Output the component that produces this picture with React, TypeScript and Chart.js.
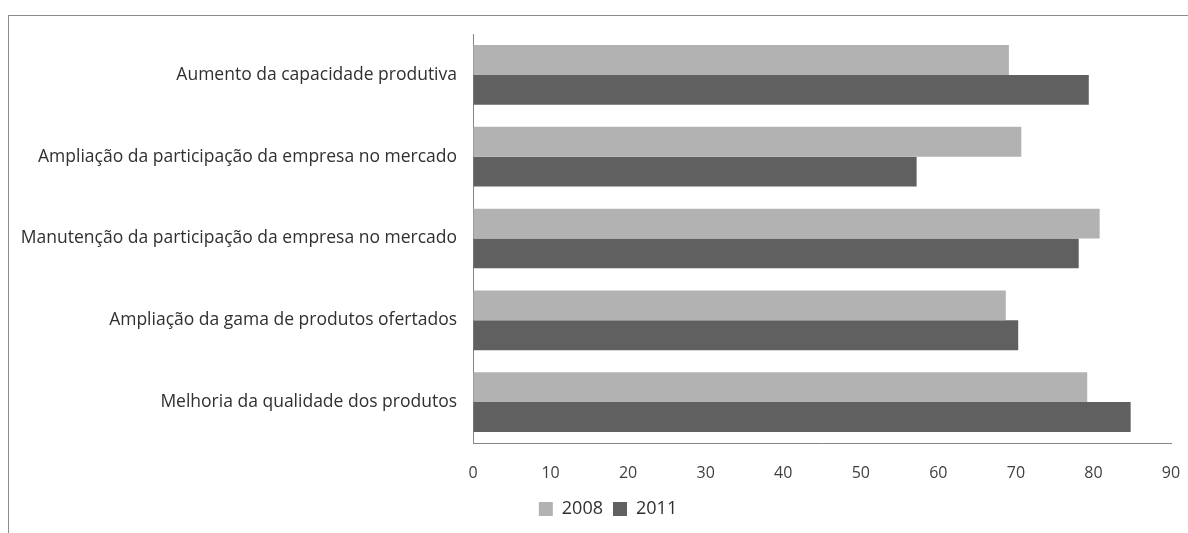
import React, { useEffect, useRef } from "react";
import { Chart, registerables } from "chart.js";

Chart.register(...registerables);

const categories = [
  "Aumento da capacidade produtiva",
  "Ampliação da participação da empresa no mercado",
  "Manutenção da participação da empresa no mercado",
  "Ampliação da gama de produtos ofertados",
  "Melhoria da qualidade dos produtos",
];
const series2008 = [69.1, 70.7, 80.8, 68.7, 79.2];
const series2011 = [79.4, 57.2, 78.1, 70.3, 84.8];
const seriesNames = ["2008", "2011"];
const xTicks = [0, 10, 20, 30, 40, 50, 60, 70, 80, 90];

const legendShift = {
  id: "legendShift",
  afterLayout(chart: any) {
    if (chart.legend) {
      chart.legend.left += 18;
      chart.legend.right += 18;
      chart.legend.top += 2;
      chart.legend.bottom += 2;
    }
  },
};

export default function App() {
  const ref = useRef<HTMLCanvasElement | null>(null);
  useEffect(() => {
    document.body.style.margin = "0";
    const ctx = ref.current!;
    const font = "'Open Sans', 'DejaVu Sans', sans-serif";
    const chart = new Chart(ctx, {
      type: "bar",
      data: {
        labels: categories,
        datasets: [
          { label: seriesNames[0], data: series2008, backgroundColor: "#b2b2b2", categoryPercentage: 0.73, barPercentage: 1 },
          { label: seriesNames[1], data: series2011, backgroundColor: "#606060", categoryPercentage: 0.73, barPercentage: 1 },
        ],
      },
      plugins: [legendShift],
      options: {
        indexAxis: "y",
        animation: false,
        responsive: false,
        maintainAspectRatio: false,
        layout: { padding: { top: 18, right: 17, bottom: 7, left: 0 } },
        scales: {
          x: {
            min: 0,
            max: 90,
            afterBuildTicks: (axis: any) => {
              axis.ticks = xTicks.map((v) => ({ value: v }));
            },
            grid: { display: true, drawOnChartArea: false, drawTicks: true, tickLength: 21, tickColor: "rgba(0,0,0,0)" },
            border: { display: true, color: "#868686", width: 1 },
            ticks: { color: "#404040", font: { family: font, size: 16 }, padding: 0 },
            afterFit: (axis: any) => {
              axis.height = 45;
            },
          },
          y: {
            grid: { display: true, drawOnChartArea: false, drawTicks: true, tickLength: 16, tickColor: "rgba(0,0,0,0)" },
            border: { display: true, color: "#868686", width: 1 },
            ticks: { color: "#303030", font: { family: font, size: 17.5 }, padding: 0 },
            afterFit: (axis: any) => {
              axis.width = 464;
            },
          },
        },
        plugins: {
          legend: {
            position: "bottom",
            labels: {
              color: "#303030",
              font: { family: font, size: 18 },
              boxWidth: 14,
              boxHeight: 14,
              padding: 10,
            },
          },
          tooltip: { enabled: false },
        },
      },
    });
    return () => chart.destroy();
  }, []);
  return (
    <div
      style={{
        position: "absolute",
        left: 8,
        top: 15,
        width: 1180,
        height: 518,
        borderTop: "1px solid #8c8c8c",
        borderLeft: "1px solid #8c8c8c",
        background: "#fff",
      }}
    >
      <canvas ref={ref} width={1179} height={517} style={{ display: "block" }} />
    </div>
  );
}
